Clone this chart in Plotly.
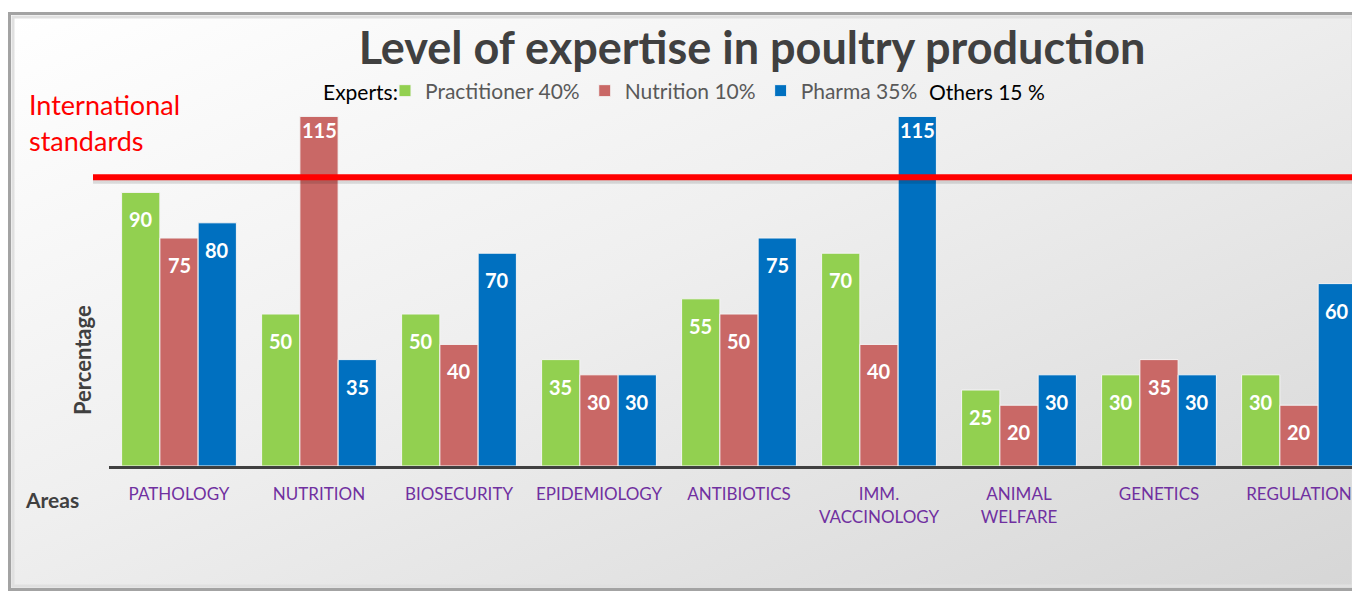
import base64
import plotly.graph_objects as go

# ---- data ----
areas = ["PATHOLOGY", "NUTRITION", "BIOSECURITY", "EPIDEMIOLOGY", "ANTIBIOTICS",
         "IMM.<br>VACCINOLOGY", "ANIMAL<br>WELFARE", "GENETICS", "REGULATION"]
practitioner = [90, 50, 50, 35, 55, 70, 25, 30, 30]
nutrition = [75, 115, 40, 30, 50, 40, 20, 35, 20]
pharma = [80, 35, 70, 30, 75, 115, 30, 30, 60]
series_names = ["Practitioner 40%", "Nutrition 10%", "Pharma 35%"]
legend_prefix = "Experts:"
others_label = "Others 15 %"
international_standard = 95

# ---- layout constants (page body has an 8px margin) ----
OFF = 8
W, H = 1360 - OFF, 595 - OFF
ML, MR, MT, MB = 109 - OFF, 0, 86 - OFF, 595 - 466
PW, PH = W - ML - MR, H - MT - MB
PITCH = 140.0
BARGAP = 0.18
BAR_PX = PITCH * (1 - BARGAP) / 3
FONT = "Lato, 'Open Sans', sans-serif"
colors = ["#92D050", "#C96866", "#0070C0"]


def px_x(px):  # reference-page pixel -> paper
    return (px - OFF - ML) / PW


def px_y(py):
    return (H - MB - (py - OFF)) / PH


svg = f'''<svg xmlns="http://www.w3.org/2000/svg" width="{W}" height="{H}" viewBox="0 0 {W} {H}">
<defs>
<linearGradient id="g" x1="0" y1="0" x2="1" y2="1">
<stop offset="0" stop-color="#FFFFFF"/>
<stop offset="0.45" stop-color="#EFEFEF"/>
<stop offset="1" stop-color="#D6D6D6"/>
</linearGradient>
</defs>
<rect x="0" y="0" width="{W}" height="{H}" fill="#FFFFFF"/>
<rect x="1.5" y="5.5" width="1347" height="576" fill="url(#g)" stroke="#A3A3A3" stroke-width="3"/>
<rect x="5" y="9" width="1340" height="569" fill="none" stroke="#E0E0E0" stroke-width="3"/>
</svg>'''
src = "data:image/svg+xml;base64," + base64.b64encode(svg.encode()).decode()

fig = go.Figure()
all_series = [practitioner, nutrition, pharma]
for name, vals, col in zip(series_names, all_series, colors):
    fig.add_trace(go.Bar(
        x=areas, y=vals, name=name,
        marker=dict(color=col, line=dict(color="#F4F4F4", width=1)),
        hoverinfo="x+y+name",
    ))

annos = []
# data labels (white, bold, inside the top of each bar)
for k, vals in enumerate(all_series):
    for a, v in zip(areas, vals):
        annos.append(dict(
            x=a, y=v, xref="x", yref="y", text=f"<b>{v}</b>", showarrow=False,
            xshift=(k - 1) * BAR_PX, yshift=-27 if v < 100 else -14,
            yanchor="middle", xanchor="center",
            font=dict(color="white", size=20, family=FONT)))

fig.add_shape(type="line", xref="paper", yref="y",
              x0=px_x(93), x1=px_x(1352),
              y0=international_standard - 1.2, y1=international_standard - 1.2,
              line=dict(color="rgba(0,0,0,0.12)", width=6), layer="above")
fig.add_shape(type="line", xref="paper", yref="y",
              x0=px_x(93), x1=px_x(1352),
              y0=international_standard, y1=international_standard,
              line=dict(color="#FF0000", width=6), layer="above")

text_annos = [
    dict(text="International", x=px_x(27), y=px_y(104), xanchor="left", yanchor="middle",
         font=dict(color="#FF0000", size=27, family=FONT)),
    dict(text="standards", x=px_x(27), y=px_y(140), xanchor="left", yanchor="middle",
         font=dict(color="#FF0000", size=27, family=FONT)),
    dict(text="<b>Percentage</b>", x=px_x(82), y=px_y(360), textangle=-90,
         xanchor="center", yanchor="middle",
         font=dict(color="#404040", size=22, family=FONT)),
    dict(text="<b>Areas</b>", x=px_x(23), y=px_y(499), xanchor="left", yanchor="middle",
         font=dict(color="#404040", size=21, family=FONT)),
    dict(text=legend_prefix, x=px_x(400), y=px_y(91), xanchor="right", yanchor="middle",
         font=dict(color="#000000", size=21, family=FONT)),
    dict(text=others_label, x=px_x(927), y=px_y(91), xanchor="left", yanchor="middle",
         font=dict(color="#000000", size=21, family=FONT)),
]
for a in text_annos:
    a.update(xref="paper", yref="paper", showarrow=False)
fig.update_layout(annotations=annos + text_annos)

fig.update_layout(
    width=W, height=H,
    margin=dict(l=ML, r=MR, t=MT, b=MB),
    paper_bgcolor="rgba(0,0,0,0)", plot_bgcolor="rgba(0,0,0,0)",
    barmode="group", bargap=BARGAP, bargroupgap=0,
    font=dict(family=FONT),
    title=dict(text="<b>Level of expertise in poultry production</b>",
               x=(752 - OFF) / W, xanchor="center", xref="container",
               y=1 - (48 - OFF) / H, yanchor="middle", yref="container",
               font=dict(size=45, color="#404040", family=FONT)),
    legend=dict(orientation="h", x=px_x(385), y=px_y(91), xanchor="left", yanchor="middle",
                xref="paper", yref="paper",
                font=dict(color="#595959", size=21, family=FONT),
                bgcolor="rgba(0,0,0,0)", itemwidth=30, traceorder="normal"),
    showlegend=True,
    images=[dict(source=src, xref="paper", yref="paper",
                 x=-ML / PW, y=1 + MT / PH, sizex=W / PW, sizey=H / PH,
                 xanchor="left", yanchor="top", sizing="stretch", layer="below")],
    xaxis=dict(range=[-0.5, PW / PITCH - 0.5], showgrid=False, zeroline=False,
               showline=True, linecolor="#404040", linewidth=3,
               ticks="", ticklabelstandoff=11,
               tickfont=dict(color="#7030A0", size=17, family=FONT)),
    yaxis=dict(range=[0, PH / 3.04], showgrid=False, zeroline=False, showline=False,
               showticklabels=False, ticks=""),
)

fig.write_html("out.html")
